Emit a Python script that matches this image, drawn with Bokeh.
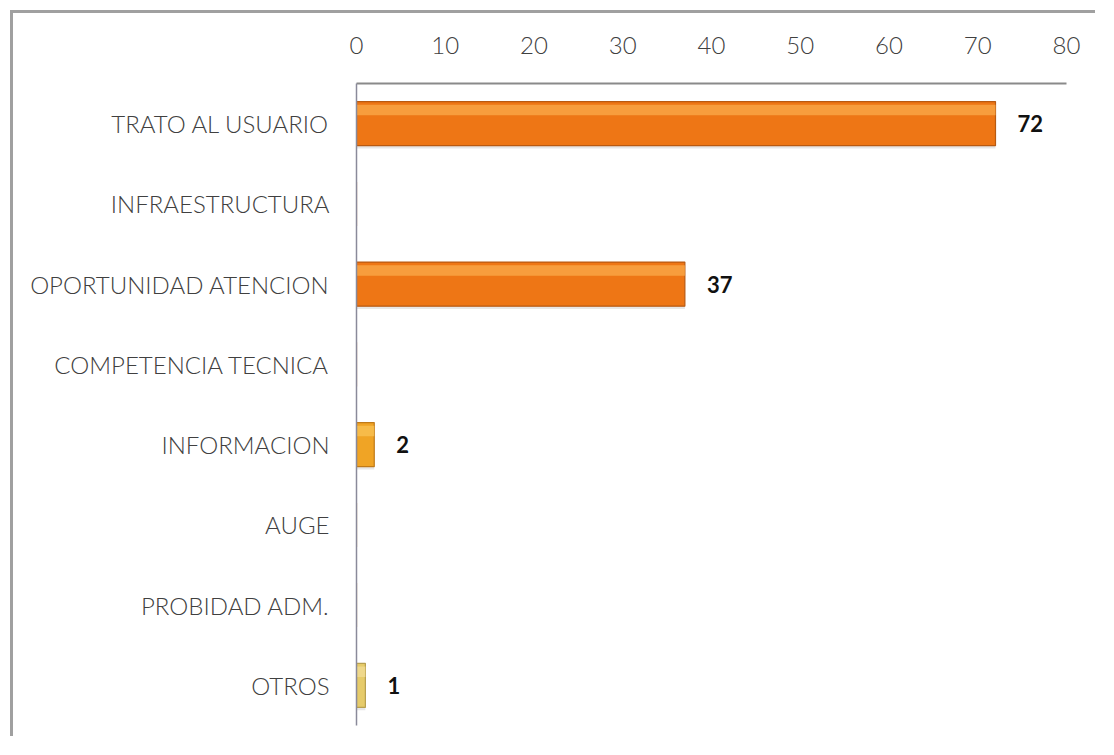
from bokeh.plotting import figure
from bokeh.layouts import column
from bokeh.models import FactorRange, Range1d, ColumnDataSource, FixedTicker, LabelSet
from bokeh.core.properties import value
from bokeh.transform import dodge
from bokeh.embed import file_html
from bokeh.resources import INLINE

categories = ["TRATO AL USUARIO", "INFRAESTRUCTURA", "OPORTUNIDAD ATENCION",
              "COMPETENCIA TECNICA", "INFORMACION", "AUGE", "PROBIDAD ADM.", "OTROS"]
values = [72, 0, 37, 0, 2, 0, 0, 1]
labels = ["72", "", "37", "", "2", "", "", "1"]
x_ticks = [0, 10, 20, 30, 40, 50, 60, 70, 80]

fill_colors = ["#EE7615", "#EE7615", "#EE7615", "#EE7615", "#F0A425", "#F0A425", "#F0A425", "#E6CB6A"]
edge_colors = ["#B85A12", "#B85A12", "#B85A12", "#B85A12", "#C07A18", "#C07A18", "#C07A18", "#B8A050"]
hi_colors = ["#F8A444", "#F8A444", "#F8A444", "#F8A444", "#F8C050", "#F8C050", "#F8C050", "#F0DA90"]

src = ColumnDataSource(dict(cat=categories, val=values, lab=labels,
                            fill=fill_colors, edge=edge_colors, hi=hi_colors))

FONT = "'Lato Light', Lato"
W, H = 1085, 726
p = figure(width=W, height=H, output_backend="svg", toolbar_location=None,
           y_range=FactorRange(*list(reversed(categories))),
           x_range=Range1d(0, 80), x_axis_location="above",
           min_border_left=343, min_border_right=32, min_border_top=70, min_border_bottom=14)
p.styles = {"border-left": "3px solid #a0a0a0", "border-top": "3px solid #a0a0a0"}
p.outline_line_color = None
p.xgrid.grid_line_color = None
p.ygrid.grid_line_color = None

# shadow
p.hbar(y=dodge("cat", -0.035, range=p.y_range), right="val", left=0, height=0.55,
       source=src, fill_color="#b0b0b0", fill_alpha=0.3, line_color=None)
# main bar
p.hbar(y="cat", right="val", left=0, height=0.55, source=src,
       fill_color="fill", line_color="edge", line_width=1.2)
# highlight stripe
p.hbar(y=dodge("cat", 0.17, range=p.y_range), right="val", left=0, height=0.13,
       source=src, fill_color="hi", fill_alpha=0.85, line_color=None)

lbl = LabelSet(x="val", y="cat", text="lab", source=src, x_offset=22, y_offset=0,
               text_font=value("Lato"), text_font_style="bold", text_font_size="22px",
               text_color="#111111", text_baseline="middle", text_align="left")
p.add_layout(lbl)

xa = p.xaxis[0]
xa.ticker = FixedTicker(ticks=x_ticks)
xa.major_tick_line_color = None
xa.minor_tick_line_color = None
xa.axis_line_color = "#8a8a8a"
xa.axis_line_width = 2
xa.major_label_standoff = 24
xa.major_label_text_font = FONT
xa.major_label_text_font_size = "24px"
xa.major_label_text_color = "#404040"

ya = p.yaxis[0]
ya.major_tick_line_color = None
ya.minor_tick_line_color = None
ya.axis_line_color = "#8a8a9a"
ya.axis_line_width = 1.5
ya.major_label_standoff = 21
ya.major_label_text_font = FONT
ya.major_label_text_font_size = "24px"
ya.major_label_text_color = "#404040"

layout = column(p, styles={"padding-left": "10px", "padding-top": "10px"})
open("out.html", "w").write(file_html(layout, INLINE))
